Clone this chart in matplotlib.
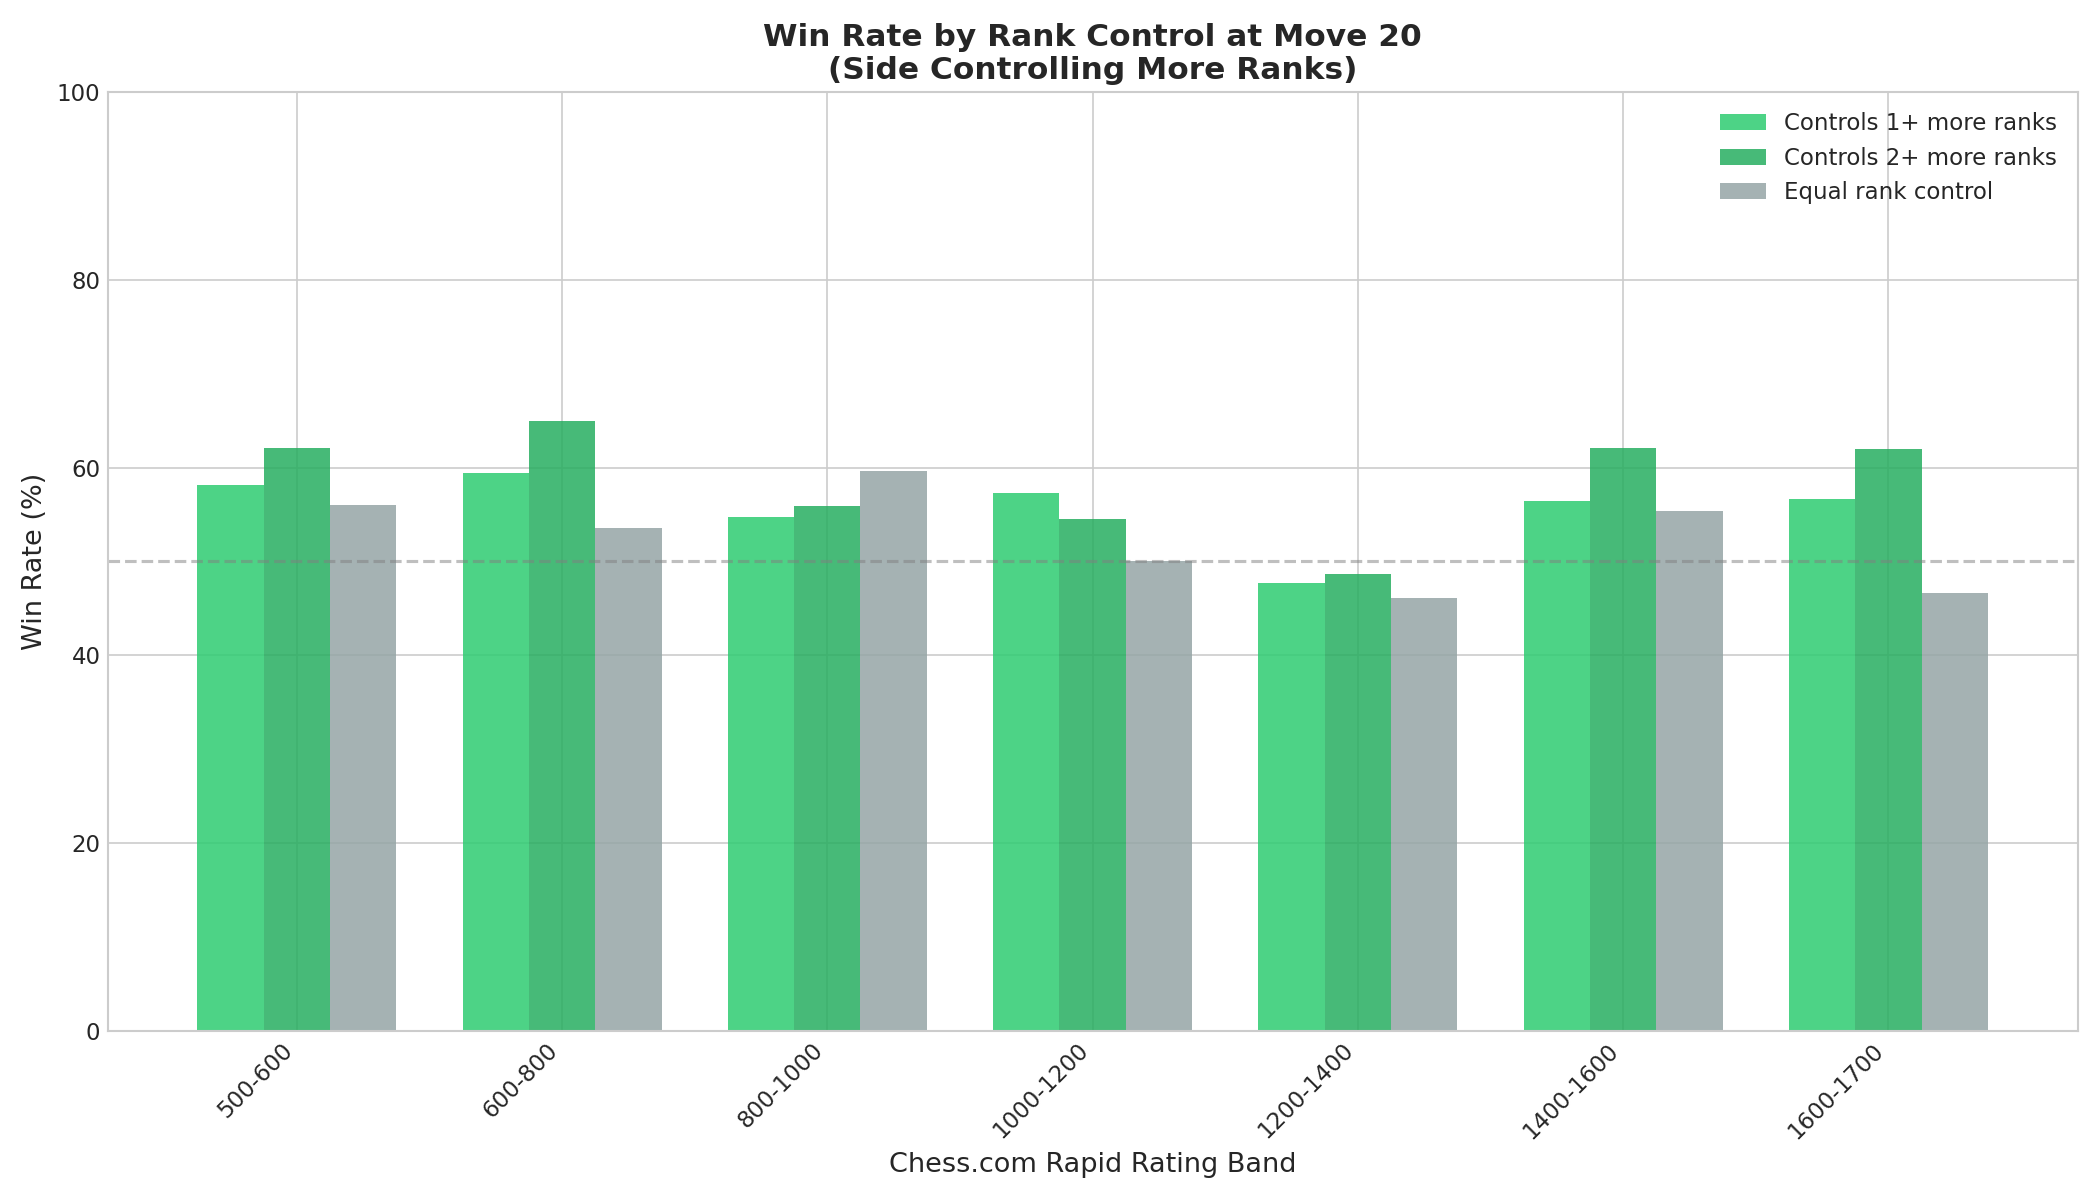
import numpy as np
import matplotlib
matplotlib.use('Agg')
import matplotlib.pyplot as plt

plt.style.use('seaborn-v0_8-whitegrid')
plt.rcParams['font.family'] = ['DejaVu Sans']
plt.rcParams['xtick.labelsize'] = 11
plt.rcParams['ytick.labelsize'] = 11
plt.rcParams['legend.fontsize'] = 11

# Rating bands and win rates (%)
bands = ['500-600', '600-800', '800-1000', '1000-1200', '1200-1400', '1400-1600', '1600-1700']
controls_1plus = [58.1, 59.4, 54.7, 57.3, 47.7, 56.4, 56.7]
controls_2plus = [62.1, 64.9, 55.9, 54.5, 48.7, 62.1, 62.0]
equal_control = [56.0, 53.6, 59.6, 50.0, 46.1, 55.4, 46.6]

x = np.arange(len(bands))
width = 0.25

fig, ax = plt.subplots(figsize=(14, 8), dpi=150)

ax.bar(x - width, controls_1plus, width, label='Controls 1+ more ranks', color='#2ecc71', alpha=0.85)
ax.bar(x, controls_2plus, width, label='Controls 2+ more ranks', color='#27ae60', alpha=0.85)
ax.bar(x + width, equal_control, width, label='Equal rank control', color='#95a5a6', alpha=0.85)

ax.axhline(50, color='gray', linestyle='--', alpha=0.5)

ax.set_xlabel('Chess.com Rapid Rating Band', fontsize=13)
ax.set_ylabel('Win Rate (%)', fontsize=13)
ax.set_title('Win Rate by Rank Control at Move 20\n(Side Controlling More Ranks)', fontsize=15, fontweight='bold')
ax.set_xticks(x)
ax.set_xticklabels(bands, rotation=45, ha='right')
ax.set_ylim(0, 100)
ax.legend(loc='upper right')

plt.tight_layout()
plt.savefig('out.png', dpi=150)
